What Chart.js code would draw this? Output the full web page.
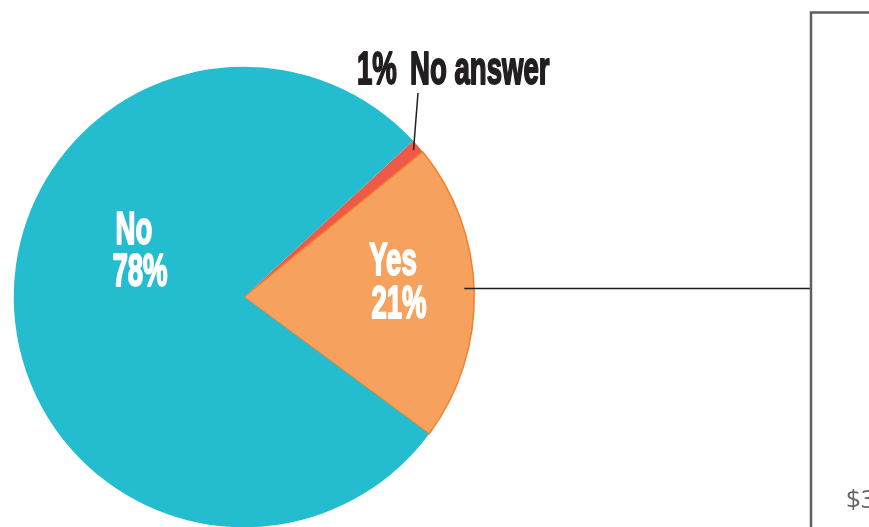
<!DOCTYPE html>
<html>
<head>
<meta charset="utf-8">
<script src="https://cdn.jsdelivr.net/npm/chart.js@4.4.1/dist/chart.umd.min.js"></script>
<style>
  html, body { margin: 0; padding: 0; background: #fff; overflow: hidden; }
  #wrap { position: relative; width: 869px; height: 527px; overflow: hidden; }
  canvas { position: absolute; left: 0; top: 0; }
</style>
</head>
<body>
<div id="wrap">
  <canvas id="pieChart" width="869" height="540"></canvas>
</div>
<script>
// survey answers, drawn clockwise starting from the small "No answer" slice
const answerLabels = ['No answer', 'Yes', 'No'];
const answerValues = [1, 21, 78];
const sliceColors = ['#ee5a47', '#f7a15e', '#24bdd0'];
const sliceBorders = ['#ee5a47', '#f3802a', '#24bdd0'];
const cutOffTick = '$3';

// heavy condensed text: bold sans squeezed sideways and stroked a little
const condensed = (ctx, text, x, y, color, size, align) => {
  const squeeze = 0.6;
  ctx.save();
  ctx.font = `bold ${size}px "Liberation Sans", Arial, sans-serif`;
  ctx.fillStyle = color;
  ctx.strokeStyle = color;
  ctx.lineWidth = 2;
  ctx.lineJoin = 'round';
  ctx.textBaseline = 'alphabetic';
  const w = ctx.measureText(text).width * squeeze;
  let left = x;
  if (align === 'center') left = x - w / 2;
  if (align === 'right') left = x - w;
  ctx.translate(left, y);
  ctx.scale(squeeze, 1);
  ctx.fillText(text, 0, 0);
  ctx.strokeText(text, 0, 0);
  ctx.restore();
};

const annotations = {
  id: 'annotations',
  afterDraw(chart) {
    const ctx = chart.ctx;
    const arcs = chart.getDatasetMeta(0).data;
    const pct = answerValues.map((v) => `${v}%`);

    // "No" label inside the big slice
    condensed(ctx, answerLabels[2], 134, 244, '#fff', 46, 'center');
    condensed(ctx, pct[2], 140, 286, '#fff', 46, 'center');

    // "Yes" label inside the orange slice
    condensed(ctx, answerLabels[1], 393, 275, '#fff', 46, 'center');
    condensed(ctx, pct[1], 399, 318, '#fff', 46, 'center');

    // "No answer" label above the pie with a leader line
    condensed(ctx, pct[0], 357, 84, '#231f20', 46, 'left');
    condensed(ctx, answerLabels[0], 410, 84, '#231f20', 46, 'left');
    const small = arcs[0];
    const mid = (small.startAngle + small.endAngle) / 2;
    const r = small.outerRadius - 6;
    ctx.save();
    ctx.strokeStyle = '#231f20';
    ctx.lineWidth = 1.5;
    ctx.beginPath();
    ctx.moveTo(418, 93);
    ctx.lineTo(small.x + Math.cos(mid) * r, small.y + Math.sin(mid) * r);
    ctx.stroke();

    // connector from the Yes slice to the next panel
    const yes = arcs[1];
    ctx.beginPath();
    ctx.moveTo(yes.x + yes.outerRadius - 10, 288.5);
    ctx.lineTo(811, 288.5);
    ctx.stroke();

    // edge of the next (cut-off) panel
    ctx.strokeStyle = '#606060';
    ctx.lineWidth = 2.5;
    ctx.beginPath();
    ctx.moveTo(811, 540);
    ctx.lineTo(811, 12.5);
    ctx.lineTo(869, 12.5);
    ctx.stroke();
    ctx.fillStyle = '#666';
    ctx.font = '26px "Open Sans", sans-serif';
    ctx.fillText(cutOffTick, 846, 508);
    ctx.restore();
  },
};

new Chart(document.getElementById('pieChart'), {
  type: 'pie',
  data: {
    labels: answerLabels,
    datasets: [
      {
        data: answerValues,
        backgroundColor: sliceColors,
        borderColor: sliceBorders,
        borderWidth: [0, 1.5, 0],
      },
    ],
  },
  options: {
    responsive: false,
    animation: false,
    rotation: 47.3,
    layout: {
      padding: { left: 13, top: 66, right: 394, bottom: 12 },
    },
    plugins: {
      legend: { display: false },
      tooltip: { enabled: false },
    },
  },
  plugins: [annotations],
});
</script>
</body>
</html>
